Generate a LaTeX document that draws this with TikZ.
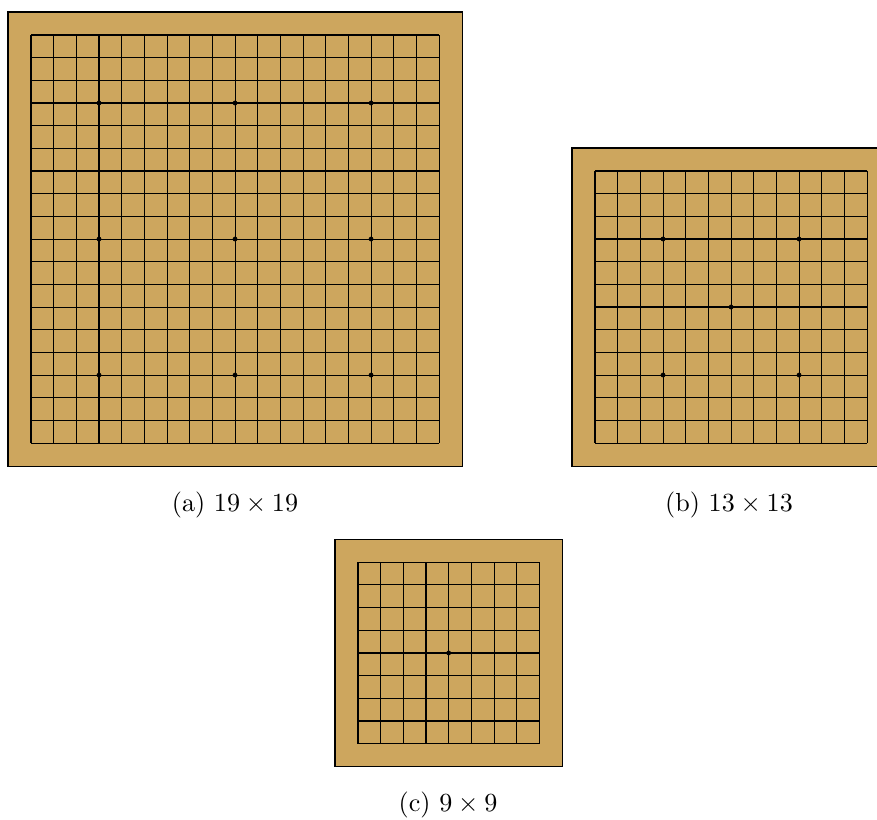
\documentclass[tikz,border=0pt]{standalone}
\definecolor{boardwood}{RGB}{205,166,94}
\newcommand\goboard[5]{% #1 x0, #2 y0, #3 n, #4 star list (i/j), #5 name
  \pgfmathsetmacro\gL{(#3-1)*22.67}
  \pgfmathtruncatemacro\gN{#3-1}
  \filldraw[boardbox] (#1-23,#2-23) rectangle (#1+\gL+23,#2+\gL+23);
  \foreach \i in {0,...,\gN}{
    \draw[gridline] (#1+\i*22.67,#2) -- (#1+\i*22.67,#2+\gL);
    \draw[gridline] (#1,#2+\i*22.67) -- (#1+\gL,#2+\i*22.67);
  }
  \foreach \i/\j in {#4}{
    \fill[starpt] (#1+\i*22.67,#2+\j*22.67) circle (2.4);
  }
  \coordinate (#5) at (#1+\gL/2,#2+\gL/2);
}
\begin{document}
\begin{tikzpicture}[x=0.383pt,y=-0.383pt,
  boardbox/.style={fill=boardwood,draw=black,line width=0.4pt},
  gridline/.style={draw=black,line width=0.4pt},
  starpt/.style={fill=black},
  captext/.style={font=\fontsize{10pt}{12pt}\selectfont,inner sep=0pt}]
\useasboundingbox (0,0) rectangle (877,819);
\goboard{31}{35}{19}{3/3,9/3,15/3,3/9,9/9,15/9,3/15,9/15,15/15}{ba}
\goboard{595}{171}{13}{3/3,9/3,6/6,3/9,9/9}{bb}
\goboard{358}{562.3}{9}{4/4}{bc}
\node[captext] (capa) at (235,505) {(a) $19\times19$};
\node[captext] (capb) at (729,505) {(b) $13\times13$};
\node[captext] (capc) at (448,805) {(c) $9\times9$};
\end{tikzpicture}
\end{document}
